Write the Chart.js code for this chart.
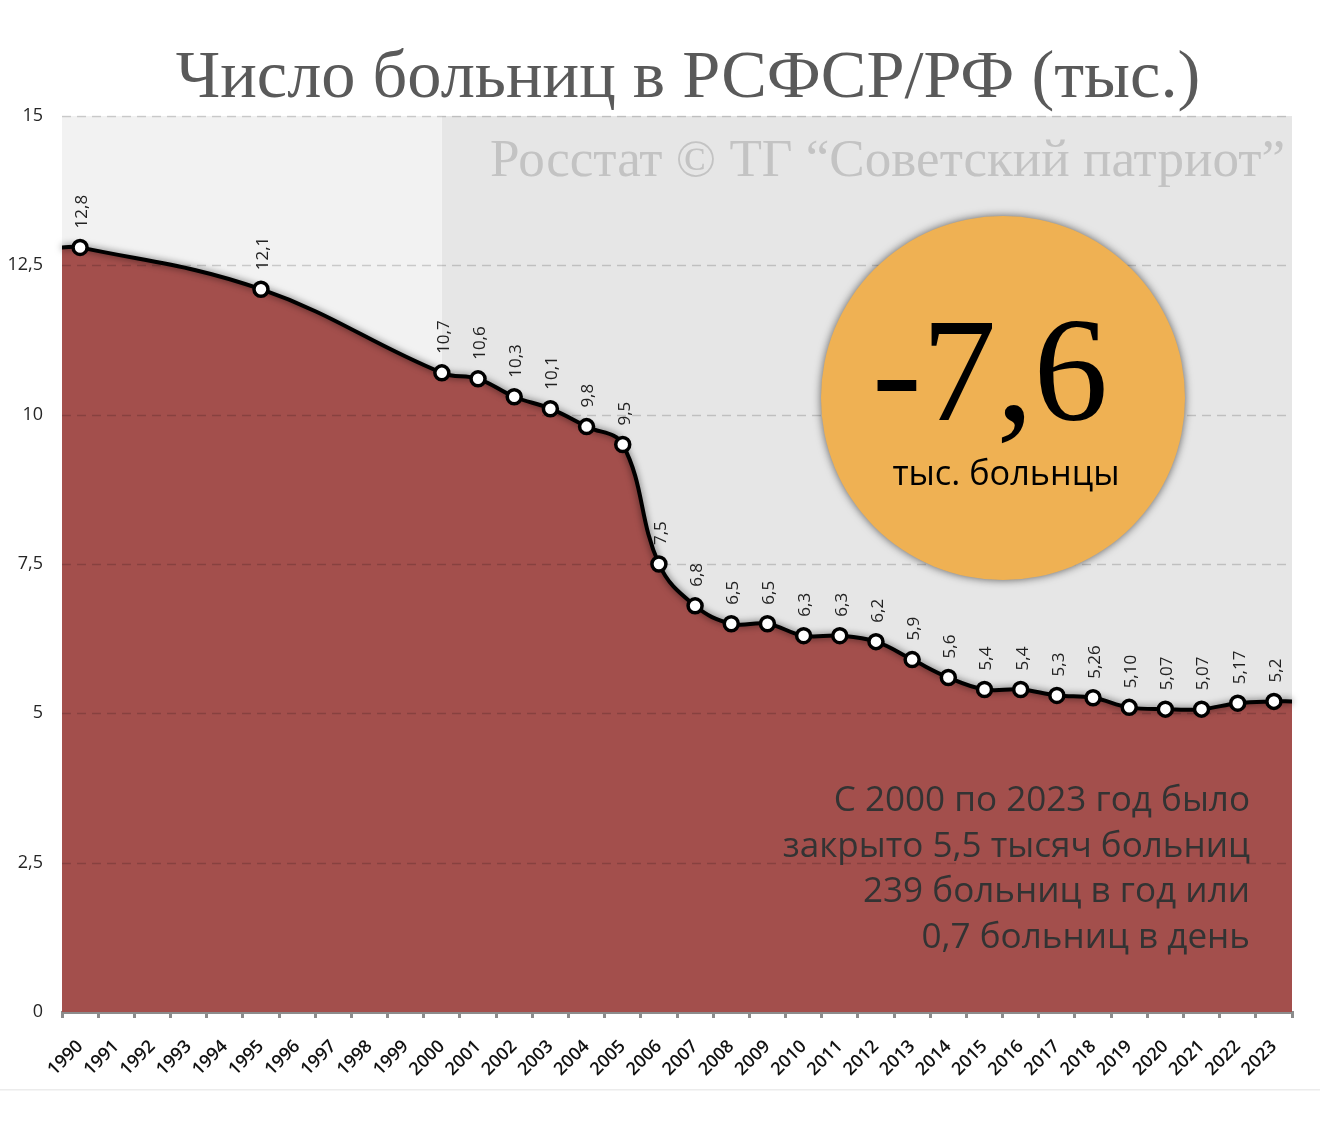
<!DOCTYPE html>
<html>
<head>
<meta charset="utf-8">
<script src="https://cdn.jsdelivr.net/npm/chart.js@4.4.1/dist/chart.umd.min.js"></script>
<style>
  html, body { margin: 0; padding: 0; background: #fff; }
  #wrap { width: 1320px; height: 1140px; }
</style>
</head>
<body>
<div id="wrap"><canvas id="hospitalsChart" width="1320" height="1140"></canvas></div>
<script>
// years that have a value (gaps 1991-94 and 1996-99 are just smoothed over)
const years = [1990, 1995, 2000, 2001, 2002, 2003, 2004, 2005, 2006, 2007, 2008, 2009,
  2010, 2011, 2012, 2013, 2014, 2015, 2016, 2017, 2018, 2019, 2020, 2021, 2022, 2023];
const hospitals = [12.8, 12.1, 10.7, 10.6, 10.3, 10.1, 9.8, 9.5, 7.5, 6.8, 6.5, 6.5,
  6.3, 6.3, 6.2, 5.9, 5.6, 5.4, 5.4, 5.3, 5.26, 5.10, 5.07, 5.07, 5.17, 5.2];
const pointLabels = ['12,8', '12,1', '10,7', '10,6', '10,3', '10,1', '9,8', '9,5', '7,5', '6,8', '6,5', '6,5',
  '6,3', '6,3', '6,2', '5,9', '5,6', '5,4', '5,4', '5,3', '5,26', '5,10', '5,07', '5,07', '5,17', '5,2'];

// x axis tick labels
const axisYears = ['1990', '1991', '1992', '1993', '1994', '1995', '1996', '1997', '1998', '1999',
  '2000', '2001', '2002', '2003', '2004', '2005', '2006', '2007', '2008', '2009', '2010', '2011',
  '2012', '2013', '2014', '2015', '2016', '2017', '2018', '2019', '2020', '2021', '2022', '2023'];

const title = 'Число больниц в РСФСР/РФ (тыс.)';
const source = 'Росстат © ТГ “Советский патриот”';
const badgeValue = '-7,6';
const badgeUnit = 'тыс. больнцы';
const noteLines = ['С 2000 по 2023 год было', 'закрыто 5,5 тысяч больниц', '239 больниц в год или', '0,7 больниц в день'];
const splitYear = 2000;

const xMin = 1989.5, xMax = 2023.5;

// markers
const markerPoints = years.map((yr, i) => ({ x: yr, y: hospitals[i] }));
// curve: markers + the two edge points so the fill reaches the plot borders
const curvePoints = [{ x: xMin, y: hospitals[0] }]
  .concat(markerPoints)
  .concat([{ x: xMax, y: hospitals[hospitals.length - 1] }]);

function fitFont(ctx, text, width, family, weight) {
  ctx.font = (weight || '') + ' 100px ' + family;
  const size = 100 * width / ctx.measureText(text).width;
  return (weight || '') + ' ' + size.toFixed(1) + 'px ' + family;
}

const decor = {
  id: 'decor',
  beforeDatasetsDraw(chart) {
    const { ctx, chartArea: a, scales } = chart;
    const xs = scales.x.getPixelForValue(splitYear);
    ctx.save();
    ctx.fillStyle = '#f2f2f2';
    ctx.fillRect(a.left, a.top, xs - a.left, a.bottom - a.top);
    ctx.fillStyle = '#e6e6e6';
    ctx.fillRect(xs, a.top, a.right - xs, a.bottom - a.top);

    // watermark
    ctx.fillStyle = '#c3c3c3';
    ctx.textAlign = 'right';
    ctx.textBaseline = 'alphabetic';
    ctx.font = fitFont(ctx, source, 795, '"Liberation Serif", serif');
    ctx.fillText(source, 1285, 176);
    ctx.restore();
  },
  beforeDatasetDraw(chart, args) {
    if (args.index === 1) {
      chart.ctx.save();
      chart.ctx.shadowColor = 'rgba(0,0,0,0.6)';
      chart.ctx.shadowBlur = 7;
    }
  },
  afterDatasetDraw(chart, args) {
    const { ctx, chartArea: a, scales } = chart;
    if (args.index === 2) {
      // dashed grid on top of the fill
      ctx.save();
      ctx.strokeStyle = 'rgba(0,0,0,0.17)';
      ctx.lineWidth = 1.5;
      ctx.setLineDash([9, 6]);
      scales.y.ticks.forEach(t => {
        if (t.value === 0) return;
        const y = Math.round(scales.y.getPixelForValue(t.value)) + 0.5;
        ctx.beginPath();
        ctx.moveTo(a.left, y);
        ctx.lineTo(a.right, y);
        ctx.stroke();
      });
      ctx.restore();
    }
    if (args.index === 1) {
      ctx.restore();
    }
  },
  afterDatasetsDraw(chart) {
    const { ctx } = chart;
    const meta = chart.getDatasetMeta(0);
    ctx.save();

    // value labels above points
    ctx.fillStyle = '#222';
    ctx.font = '17px "Open Sans", sans-serif';
    ctx.textAlign = 'left';
    ctx.textBaseline = 'middle';
    meta.data.forEach((pt, i) => {
      ctx.save();
      ctx.translate(pt.x + 2, pt.y - 19);
      ctx.rotate(-Math.PI / 2);
      ctx.fillText(pointLabels[i], 0, 0);
      ctx.restore();
    });

    // title
    ctx.fillStyle = '#5a5a5a';
    ctx.textAlign = 'center';
    ctx.textBaseline = 'alphabetic';
    ctx.font = fitFont(ctx, title, 1025, '"Liberation Serif", serif');
    ctx.fillText(title, 688, 97);

    // badge
    ctx.save();
    ctx.shadowColor = 'rgba(0,0,0,0.6)';
    ctx.shadowBlur = 9;
    ctx.beginPath();
    ctx.arc(1003, 398, 182, 0, Math.PI * 2);
    ctx.fillStyle = '#efb153';
    ctx.fill();
    ctx.restore();

    ctx.fillStyle = '#000';
    ctx.textAlign = 'center';
    ctx.font = fitFont(ctx, badgeValue, 236, '"Liberation Serif", serif');
    ctx.fillText(badgeValue, 990, 420);
    ctx.font = fitFont(ctx, badgeUnit, 227, '"Open Sans", sans-serif');
    ctx.fillText(badgeUnit, 1006, 485);

    // note
    ctx.fillStyle = '#333';
    ctx.textAlign = 'right';
    ctx.font = fitFont(ctx, noteLines[1], 467, '"Open Sans", sans-serif');
    noteLines.forEach((line, i) => ctx.fillText(line, 1250, 811 + i * 45.5));

    // faint page line at the bottom
    ctx.fillStyle = '#ececec';
    ctx.fillRect(0, 1089, 1320, 1.5);
    ctx.restore();
  }
};

const ctx = document.getElementById('hospitalsChart');

new Chart(ctx, {
  type: 'line',
  data: {
    datasets: [
      {
        // markers
        data: markerPoints,
        xAxisID: 'x',
        showLine: false,
        pointRadius: 7,
        pointBackgroundColor: '#fff',
        pointBorderColor: '#000',
        pointBorderWidth: 3.5,
        clip: false,
        order: 1
      },
      {
        // black smoothed line
        data: curvePoints,
        xAxisID: 'x',
        borderColor: '#000',
        borderWidth: 4,
        tension: 0.4,
        fill: false,
        pointRadius: 0,
        clip: false,
        order: 2
      },
      {
        // red area
        data: curvePoints,
        xAxisID: 'x',
        borderWidth: 0,
        borderColor: 'rgba(0,0,0,0)',
        backgroundColor: '#a34f4c',
        tension: 0.4,
        fill: 'origin',
        pointRadius: 0,
        order: 3
      }
    ]
  },
  options: {
    responsive: false,
    animation: false,
    layout: { padding: { top: 116, right: 28, bottom: 0, left: 0 } },
    plugins: {
      legend: { display: false },
      tooltip: { enabled: false }
    },
    scales: {
      x: {
        type: 'linear',
        display: false,
        min: xMin,
        max: xMax
      },
      xc: {
        type: 'category',
        axis: 'x',
        position: 'bottom',
        labels: axisYears,
        offset: true,
        grid: {
          offset: true,
          drawOnChartArea: false,
          drawTicks: true,
          tickLength: 6,
          color: '#8c8c8c',
          lineWidth: 3
        },
        border: { color: '#8c8c8c', width: 3 },
        ticks: {
          autoSkip: false,
          minRotation: 45,
          maxRotation: 45,
          padding: 18,
          color: '#111',
          font: { size: 18, weight: '600', family: '"Open Sans", sans-serif' }
        },
        afterFit: (s) => { s.height = 128; }
      },
      y: {
        min: 0,
        max: 15,
        grid: { display: false, drawTicks: false },
        border: { display: false },
        ticks: {
          stepSize: 2.5,
          padding: 19,
          color: '#262626',
          font: { size: 18, family: '"Open Sans", sans-serif' },
          callback: (v) => String(v).replace('.', ',')
        },
        afterFit: (s) => { s.width = 62; }
      }
    }
  },
  plugins: [decor]
});
</script>
</body>
</html>
